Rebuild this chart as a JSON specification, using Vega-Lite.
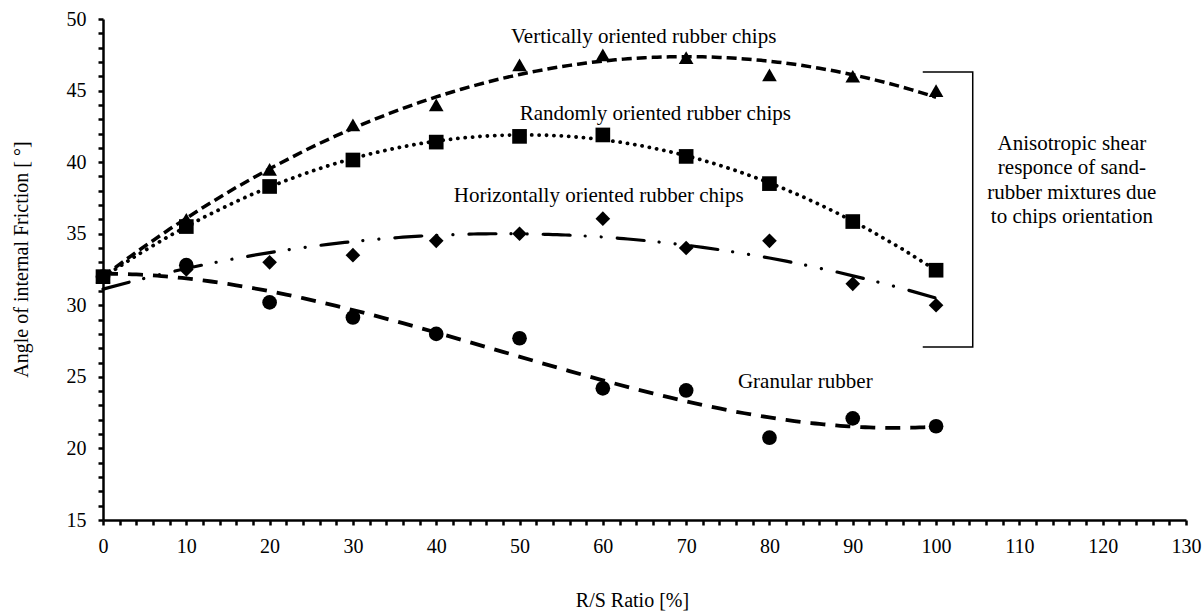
{
  "$schema": "https://vega.github.io/schema/vega-lite/v6.json",
  "width": 1083,
  "height": 501,
  "autosize": {"type": "none"},
  "padding": {"left": 103, "top": 19, "right": 17, "bottom": 96},
  "background": "white",
  "config": {"view": {"stroke": null}, "font": "Liberation Serif"},
  "datasets": {
    "points": [
      {"series": "V", "x": 0, "y": 32.0}, {"series": "V", "x": 10, "y": 36.0}, {"series": "V", "x": 20, "y": 39.5}, {"series": "V", "x": 30, "y": 42.6}, {"series": "V", "x": 40, "y": 44.0}, {"series": "V", "x": 50, "y": 46.8}, {"series": "V", "x": 60, "y": 47.5}, {"series": "V", "x": 70, "y": 47.3}, {"series": "V", "x": 80, "y": 46.1}, {"series": "V", "x": 90, "y": 46.0}, {"series": "V", "x": 100, "y": 45.0},
      {"series": "H", "x": 0, "y": 32.0}, {"series": "H", "x": 10, "y": 32.5}, {"series": "H", "x": 20, "y": 33.0}, {"series": "H", "x": 30, "y": 33.5}, {"series": "H", "x": 40, "y": 34.5}, {"series": "H", "x": 50, "y": 35.0}, {"series": "H", "x": 60, "y": 36.05}, {"series": "H", "x": 70, "y": 34.0}, {"series": "H", "x": 80, "y": 34.5}, {"series": "H", "x": 90, "y": 31.5}, {"series": "H", "x": 100, "y": 30.0},
      {"series": "G", "x": 0, "y": 32.0}, {"series": "G", "x": 10, "y": 32.8}, {"series": "G", "x": 20, "y": 30.2}, {"series": "G", "x": 30, "y": 29.15}, {"series": "G", "x": 40, "y": 28.0}, {"series": "G", "x": 50, "y": 27.7}, {"series": "G", "x": 60, "y": 24.2}, {"series": "G", "x": 70, "y": 24.05}, {"series": "G", "x": 80, "y": 20.75}, {"series": "G", "x": 90, "y": 22.1}, {"series": "G", "x": 100, "y": 21.55},
      {"series": "R", "x": 0, "y": 32.0}, {"series": "R", "x": 10, "y": 35.5}, {"series": "R", "x": 20, "y": 38.3}, {"series": "R", "x": 30, "y": 40.15}, {"series": "R", "x": 40, "y": 41.4}, {"series": "R", "x": 50, "y": 41.8}, {"series": "R", "x": 60, "y": 41.9}, {"series": "R", "x": 70, "y": 40.4}, {"series": "R", "x": 80, "y": 38.5}, {"series": "R", "x": 90, "y": 35.85}, {"series": "R", "x": 100, "y": 32.45}
    ],
    "labels": [
      {"x": 64.9, "y": 48.32, "label": "Vertically oriented rubber chips"},
      {"x": 66.3, "y": 42.94, "label": "Randomly oriented rubber chips"},
      {"x": 59.5, "y": 37.23, "label": "Horizontally oriented rubber chips"},
      {"x": 84.3, "y": 24.21, "label": "Granular rubber"},
      {"x": 116.3, "y": 40.85, "label": ["Anisotropic shear", "responce of sand-", "rubber mixtures due", "to chips orientation"]}
    ],
    "bracket": [
      {"o": 1, "x": 98.4, "y": 46.3},
      {"o": 2, "x": 104.4, "y": 46.3},
      {"o": 3, "x": 104.4, "y": 27.08},
      {"o": 4, "x": 98.4, "y": 27.08}
    ]
  },
  "encoding": {
    "x": {
      "field": "x", "type": "quantitative",
      "scale": {"domain": [0, 130], "nice": false, "zero": false},
      "axis": {
        "title": "R/S Ratio [%]",
        "values": [0,2,4,6,8,10,12,14,16,18,20,22,24,26,28,30,32,34,36,38,40,42,44,46,48,50,52,54,56,58,60,62,64,66,68,70,72,74,76,78,80,82,84,86,88,90,92,94,96,98,100,102,104,106,108,110,112,114,116,118,120,122,124,126,128,130],
        "labelExpr": "datum.value % 10 === 0 ? datum.label : ''",
        "grid": false, "tickSize": 5, "tickWidth": 2.5, "tickColor": "black",
        "domainColor": "black", "domainWidth": 2.5,
        "labelFont": "Liberation Serif", "labelFontSize": 20, "labelColor": "black", "labelPadding": 11,
        "labelFlush": false, "labelOverlap": false,
        "titleFont": "Liberation Serif", "titleFontSize": 20, "titleFontWeight": "normal", "titleColor": "black",
        "titleX": 529, "titleY": 86, "titleBaseline": "alphabetic", "titleAlign": "center"
      }
    },
    "y": {
      "field": "y", "type": "quantitative",
      "scale": {"domain": [15, 50], "nice": false, "zero": false},
      "axis": {
        "title": "Angle of internal Friction [ °]",
        "values": [15,16,17,18,19,20,21,22,23,24,25,26,27,28,29,30,31,32,33,34,35,36,37,38,39,40,41,42,43,44,45,46,47,48,49,50],
        "labelExpr": "datum.value % 5 === 0 ? datum.label : ''",
        "grid": false, "tickSize": 5, "tickWidth": 2.5, "tickColor": "black",
        "domainColor": "black", "domainWidth": 2.5,
        "labelFont": "Liberation Serif", "labelFontSize": 20, "labelColor": "black", "labelPadding": 12,
        "labelFlush": false, "labelOverlap": false,
        "titleFont": "Liberation Serif", "titleFontSize": 20, "titleFontWeight": "normal", "titleColor": "black",
        "titleX": -76, "titleY": 240, "titleBaseline": "alphabetic", "titleAlign": "center", "titleAngle": -90
      }
    }
  },
  "layer": [
    {
      "data": {"name": "points"},
      "transform": [{"filter": "datum.series === 'V'"}, {"regression": "y", "on": "x", "method": "poly", "order": 2}],
      "mark": {"type": "line", "color": "black", "strokeWidth": 3.5, "strokeDash": [10, 5]}
    },
    {
      "data": {"name": "points"},
      "transform": [{"filter": "datum.series === 'R'"}, {"regression": "y", "on": "x", "method": "poly", "order": 2}],
      "mark": {"type": "line", "color": "black", "strokeWidth": 3.8, "strokeDash": [0.1, 7.3], "strokeCap": "round"}
    },
    {
      "data": {"name": "points"},
      "transform": [{"filter": "datum.series === 'H'"}, {"regression": "y", "on": "x", "method": "poly", "order": 2}],
      "mark": {"type": "line", "color": "black", "strokeWidth": 3.2, "strokeDash": [27, 15, 0.1, 16, 0.1, 16], "strokeCap": "round"}
    },
    {
      "data": {"name": "points"},
      "transform": [{"filter": "datum.series === 'G'"}, {"regression": "y", "on": "x", "method": "poly", "order": 3}],
      "mark": {"type": "line", "color": "black", "strokeWidth": 3.8, "strokeDash": [15, 10]}
    },
    {
      "data": {"name": "points"},
      "mark": {"type": "point", "filled": true, "color": "black", "opacity": 1, "size": 215, "strokeWidth": 0},
      "encoding": {
        "shape": {"field": "series", "type": "nominal", "scale": {"domain": ["V", "R", "H", "G"], "range": ["triangle-up", "square", "diamond", "circle"]}, "legend": null}
      }
    },
    {
      "data": {"name": "bracket"},
      "mark": {"type": "line", "color": "black", "strokeWidth": 1.5},
      "encoding": {"order": {"field": "o", "type": "quantitative"}}
    },
    {
      "data": {"name": "labels"},
      "mark": {"type": "text", "font": "Liberation Serif", "fontSize": 21, "color": "black", "align": "center", "baseline": "alphabetic", "lineHeight": 24.5},
      "encoding": {"text": {"field": "label", "type": "nominal"}}
    }
  ]
}
